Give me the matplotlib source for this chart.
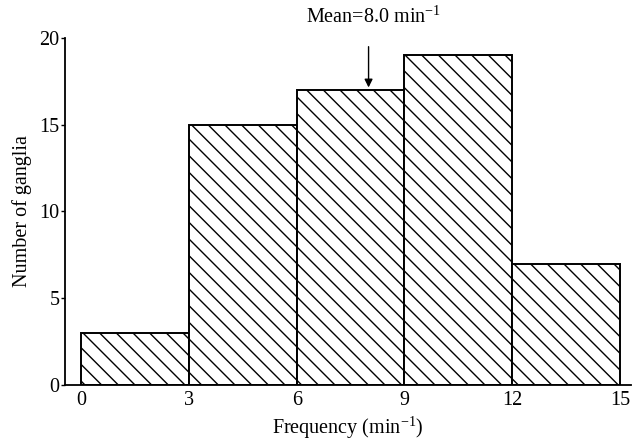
import matplotlib
matplotlib.use("Agg")
import matplotlib.pyplot as plt

# histogram bins (min^-1) and counts
bin_edges = [0, 3, 6, 9, 12, 15]
counts = [3, 15, 17, 19, 7]
mean_freq = 8.0
x_ticks = [0, 3, 6, 9, 12, 15]
y_ticks = [0, 5, 10, 15, 20]

plt.rcParams['font.family'] = ['Liberation Serif', 'DejaVu Serif']
plt.rcParams['mathtext.fontset'] = 'custom'
plt.rcParams['mathtext.rm'] = 'Liberation Serif'
plt.rcParams['hatch.linewidth'] = 1.0

fig = plt.figure(figsize=(6.32, 4.42), dpi=100)
ax = fig.add_axes([0.103, 0.129, 0.895, 0.785])

lefts = bin_edges[:-1]
widths = [bin_edges[i + 1] - bin_edges[i] for i in range(len(counts))]
ax.bar(lefts, counts, width=widths, align='edge', facecolor='white',
       edgecolor='black', linewidth=1.4, hatch='\\\\')

ax.set_xlim(-0.45, 15.3)
ax.set_ylim(0, 20)
ax.set_xticks(x_ticks)
ax.set_yticks(y_ticks)
ax.spines['top'].set_visible(False)
ax.spines['right'].set_visible(False)
ax.spines['left'].set_linewidth(1.3)
ax.spines['bottom'].set_linewidth(1.3)
ax.tick_params(axis='both', labelsize=14.5, length=3, width=1.0, pad=1)
ax.tick_params(axis='x', length=0, pad=4)

ax.set_xlabel(r'Frequency (min$^{\mathrm{-1}}$)', fontsize=14.5, labelpad=3)
ax.set_ylabel('Number of ganglia', fontsize=14.5, labelpad=5)

ax.annotate('', xy=(mean_freq, 17.15), xytext=(mean_freq, 19.5),
            arrowprops=dict(arrowstyle='-|>', color='black', lw=1.0,
                            mutation_scale=12, shrinkA=0, shrinkB=0),
            annotation_clip=False)
ax.text(mean_freq + 0.15, 21.2, r'Mean=8.0 min$^{\mathrm{-1}}$', fontsize=14.5,
        ha='center', va='center', clip_on=False)

fig.savefig('out.png', dpi=100)
